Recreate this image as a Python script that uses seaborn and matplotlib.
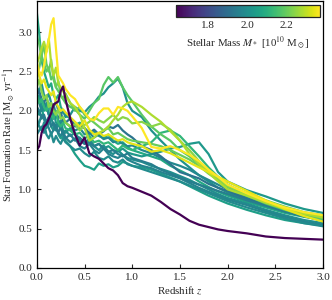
import numpy as np
import pandas as pd
import matplotlib
matplotlib.use('Agg')
import matplotlib.pyplot as plt
import seaborn as sns

# redshift grid shared by all galaxies
z = [0.0, 0.025, 0.05, 0.075, 0.1, 0.125, 0.15, 0.175, 0.2, 0.225, 0.25, 0.275, 0.3,
     0.35, 0.4, 0.45, 0.5, 0.55, 0.6, 0.65, 0.7, 0.75, 0.8, 0.85, 0.9, 0.95, 1.0,
     1.1, 1.2, 1.3, 1.4, 1.5, 1.6, 1.7, 1.8, 1.9, 2.0, 2.2, 2.4, 2.6, 2.8, 3.0]

# stellar mass of each galaxy [1e10 Msun]
masses = [2.08, 2.05, 2.03, 2.01, 2.00, 1.98, 1.97, 1.92, 1.99, 1.95,
          2.12, 2.18, 2.20, 2.24, 2.28, 2.34, 2.37, 1.64]

sfr = [
    [3.25, 2.98, 2.64, 2.50, 2.40, 2.30, 2.35, 2.20, 2.15, 2.20, 2.05, 2.00, 1.95, 1.90, 1.82, 1.85, 1.78, 1.70, 1.74, 1.68, 1.65,
     1.70, 1.62, 1.58, 1.60, 1.54, 1.50, 1.46, 1.42, 1.38, 1.30, 1.24, 1.18, 1.10, 1.03, 0.97, 0.92, 0.84, 0.77, 0.70, 0.65, 0.61],
    [2.00, 1.95, 2.05, 1.90, 1.85, 1.92, 1.80, 1.75, 1.82, 1.70, 1.65, 1.68, 1.62, 1.55, 1.45, 1.37, 1.30, 1.28, 1.25, 1.33, 1.30,
     1.32, 1.28, 1.30, 1.35, 1.33, 1.30, 1.28, 1.25, 1.20, 1.15, 1.10, 1.04, 0.98, 0.92, 0.87, 0.82, 0.74, 0.67, 0.61, 0.57, 0.54],
    [2.10, 2.20, 2.05, 2.00, 2.10, 1.95, 1.90, 2.00, 1.85, 1.80, 1.88, 1.75, 1.72, 1.78, 1.70, 1.65, 1.60, 1.62, 1.55, 1.58, 1.52,
     1.55, 1.50, 1.48, 1.52, 1.47, 1.45, 1.42, 1.45, 1.48, 1.52, 1.54, 1.58, 1.60, 1.45, 1.22, 1.10, 0.99, 0.91, 0.82, 0.75, 0.70],
    [2.30, 2.25, 2.35, 2.20, 2.15, 2.22, 2.10, 2.05, 2.12, 2.00, 1.95, 2.00, 1.92, 1.95, 2.05, 2.00, 1.98, 2.05, 2.10, 2.18, 2.22,
     2.30, 2.35, 2.41, 2.30, 2.10, 2.00, 1.92, 1.75, 1.62, 1.50, 1.38, 1.28, 1.18, 1.10, 1.02, 0.96, 0.88, 0.80, 0.73, 0.67, 0.62],
    [1.80, 1.85, 1.95, 1.90, 1.78, 1.85, 1.92, 1.80, 1.75, 1.85, 1.78, 1.70, 1.75, 1.68, 1.72, 1.62, 1.58, 1.65, 1.55, 1.50, 1.56,
     1.48, 1.45, 1.50, 1.44, 1.40, 1.38, 1.35, 1.30, 1.26, 1.22, 1.17, 1.12, 1.06, 1.00, 0.94, 0.89, 0.82, 0.74, 0.67, 0.61, 0.57],
    [2.20, 2.10, 2.00, 2.10, 2.05, 1.95, 2.00, 1.90, 1.95, 1.88, 1.82, 1.90, 1.85, 1.80, 1.75, 1.78, 1.70, 1.72, 1.66, 1.70, 1.64,
     1.66, 1.60, 1.62, 1.58, 1.55, 1.56, 1.50, 1.46, 1.40, 1.34, 1.30, 1.25, 1.18, 1.12, 1.06, 1.00, 0.90, 0.81, 0.73, 0.66, 0.60],
    [1.70, 1.75, 1.80, 1.72, 1.85, 1.78, 1.70, 1.76, 1.82, 1.72, 1.68, 1.74, 1.66, 1.60, 1.65, 1.55, 1.52, 1.58, 1.50, 1.46, 1.52,
     1.45, 1.42, 1.40, 1.44, 1.38, 1.35, 1.30, 1.27, 1.22, 1.18, 1.14, 1.08, 1.02, 0.97, 0.92, 0.87, 0.80, 0.72, 0.65, 0.59, 0.55],
    [2.20, 2.25, 2.15, 2.10, 2.18, 2.05, 2.00, 2.08, 1.95, 1.90, 1.98, 1.88, 1.85, 1.90, 1.80, 1.82, 1.78, 1.72, 1.76, 1.70, 1.74,
     1.80, 1.78, 1.82, 1.75, 1.70, 1.66, 1.55, 1.50, 1.42, 1.32, 1.22, 1.18, 1.14, 1.07, 1.02, 0.98, 0.88, 0.80, 0.72, 0.66, 0.60],
    [1.90, 1.80, 1.75, 1.85, 1.70, 1.65, 1.72, 1.60, 1.68, 1.62, 1.58, 1.65, 1.60, 1.55, 1.50, 1.52, 1.46, 1.42, 1.48, 1.40, 1.38,
     1.42, 1.36, 1.34, 1.38, 1.32, 1.30, 1.26, 1.22, 1.18, 1.14, 1.10, 1.05, 1.00, 0.95, 0.90, 0.85, 0.77, 0.70, 0.63, 0.57, 0.53],
    [2.05, 2.00, 1.90, 1.95, 1.85, 1.92, 1.80, 1.85, 1.78, 1.72, 1.80, 1.70, 1.65, 1.70, 1.62, 1.66, 1.58, 1.60, 1.55, 1.58, 1.52,
     1.48, 1.50, 1.45, 1.42, 1.46, 1.40, 1.36, 1.32, 1.25, 1.20, 1.15, 1.10, 1.06, 1.02, 0.98, 0.94, 0.86, 0.79, 0.72, 0.66, 0.62],
    [2.20, 2.10, 2.15, 2.05, 2.00, 2.10, 1.95, 1.90, 2.00, 1.85, 1.80, 1.85, 1.78, 1.75, 1.70, 1.72, 1.65, 1.68, 1.60, 1.62, 1.58,
     1.60, 1.55, 1.50, 1.56, 1.52, 1.50, 1.55, 1.60, 1.72, 1.75, 1.68, 1.55, 1.42, 1.28, 1.16, 1.06, 0.94, 0.84, 0.76, 0.70, 0.65],
    [2.95, 2.85, 2.70, 2.60, 2.50, 2.55, 2.40, 2.45, 2.30, 2.25, 2.20, 2.15, 2.10, 2.05, 2.02, 1.95, 1.90, 2.00, 2.10, 2.15, 2.33,
     2.43, 2.36, 2.43, 2.30, 2.20, 2.12, 1.95, 1.80, 1.70, 1.62, 1.50, 1.42, 1.32, 1.22, 1.12, 1.03, 0.92, 0.82, 0.74, 0.67, 0.62],
    [2.40, 2.55, 2.70, 2.85, 2.60, 2.50, 2.65, 2.40, 2.30, 2.38, 2.20, 2.15, 2.22, 2.10, 2.00, 2.05, 1.95, 1.90, 1.85, 1.80, 1.75,
     1.78, 1.70, 1.72, 1.68, 1.64, 1.62, 1.60, 1.58, 1.55, 1.50, 1.44, 1.38, 1.30, 1.20, 1.12, 1.05, 0.95, 0.86, 0.78, 0.71, 0.67],
    [2.30, 2.40, 2.25, 2.15, 2.20, 2.05, 2.10, 2.00, 1.95, 2.02, 1.90, 1.92, 1.85, 1.80, 1.83, 1.75, 1.82, 1.86, 1.92, 1.88, 1.85,
     1.90, 1.95, 1.88, 1.92, 1.90, 1.84, 1.86, 1.80, 1.84, 1.76, 1.62, 1.50, 1.36, 1.24, 1.13, 1.04, 0.93, 0.84, 0.76, 0.70, 0.66],
    [2.60, 2.68, 2.80, 2.88, 2.75, 2.92, 2.60, 2.45, 2.55, 2.35, 2.30, 2.25, 2.20, 2.10, 2.05, 1.95, 1.78, 1.62, 1.66, 1.72, 1.75,
     1.80, 1.88, 1.95, 2.05, 2.10, 2.12, 2.05, 1.95, 1.86, 1.74, 1.62, 1.45, 1.32, 1.21, 1.10, 1.00, 0.92, 0.83, 0.75, 0.69, 0.64],
    [2.55, 2.45, 2.35, 2.40, 2.30, 2.25, 2.20, 2.25, 2.10, 2.05, 2.00, 2.02, 1.98, 1.92, 1.86, 1.80, 1.88, 1.76, 1.70, 1.72, 1.68,
     1.70, 1.66, 1.62, 1.64, 1.60, 1.58, 1.55, 1.48, 1.50, 1.46, 1.40, 1.34, 1.28, 1.22, 1.16, 1.10, 0.98, 0.86, 0.75, 0.66, 0.59],
    [2.62, 2.50, 2.45, 2.58, 2.75, 2.90, 3.10, 3.18, 2.80, 2.45, 2.40, 2.35, 2.28, 2.20, 2.15, 2.05, 1.98, 1.90, 1.88, 1.97, 2.03,
     2.03, 1.95, 2.05, 2.03, 2.00, 1.93, 1.78, 1.54, 1.52, 1.55, 1.50, 1.44, 1.36, 1.25, 1.16, 1.06, 0.95, 0.85, 0.77, 0.71, 0.67],
    [1.50, 1.55, 1.72, 1.80, 1.83, 1.90, 1.97, 2.08, 2.10, 2.12, 2.25, 2.31, 2.15, 1.90, 1.70, 1.56, 1.66, 1.46, 1.42, 1.39, 1.33,
     1.27, 1.24, 1.18, 1.08, 1.04, 1.02, 0.97, 0.92, 0.84, 0.75, 0.68, 0.60, 0.55, 0.52, 0.49, 0.47, 0.44, 0.40, 0.38, 0.37, 0.36],
]

vmin, vmax = 1.64, 2.37

rows = []
for gal, (m, vals) in enumerate(zip(masses, sfr)):
    for zz, s in zip(z, vals):
        rows.append({'galaxy': gal, 'mass': m, 'z': zz, 'sfr': s})
df = pd.DataFrame(rows)

sns.set_theme(style='ticks')
plt.rcParams['font.family'] = ['Liberation Serif', 'DejaVu Serif']
plt.rcParams['mathtext.fontset'] = 'stix'

cmap = plt.get_cmap('viridis')
norm = plt.Normalize(vmin, vmax)

fig = plt.figure(figsize=(3.32, 3.0), dpi=100)
ax = fig.add_axes([0.111, 0.107, 0.862, 0.89])

# draw galaxy by galaxy so the order of the list sets the stacking
for gal, m in enumerate(masses):
    sub = df[df['galaxy'] == gal]
    sns.lineplot(data=sub, x='z', y='sfr', color=cmap(norm(m)), lw=1.6,
                 sort=False, estimator=None, ax=ax)

ax.set_xlim(0, 3)
ax.set_ylim(0, 3.4)
ax.set_xticks([0, 0.5, 1.0, 1.5, 2.0, 2.5, 3.0])
ax.set_yticks([0, 0.5, 1.0, 1.5, 2.0, 2.5, 3.0])
ax.tick_params(direction='in', length=3, labelsize=8, width=0.8)
ax.set_xlabel(r'Redshift $z$', fontsize=7.8, labelpad=2)
ax.set_ylabel(r'Star Formation Rate [M$_\odot$ yr$^{-1}$]', fontsize=7.6, labelpad=1.5)
for sp in ax.spines.values():
    sp.set_linewidth(0.9)
    sp.set_color('black')

cax = fig.add_axes([0.530, 0.943, 0.434, 0.040])
sm = plt.cm.ScalarMappable(norm=norm, cmap=cmap)
cb = fig.colorbar(sm, cax=cax, orientation='horizontal')
cb.set_ticks([1.8, 2.0, 2.2])
cax.tick_params(direction='in', length=3, labelsize=8, width=0.8, pad=3)
cb.outline.set_linewidth(0.9)
cb.set_label(r'Stellar Mass $M_*$ [10$^{10}$ M$_\odot$]', fontsize=7.8, labelpad=3)

fig.savefig('out.png', dpi=100)
